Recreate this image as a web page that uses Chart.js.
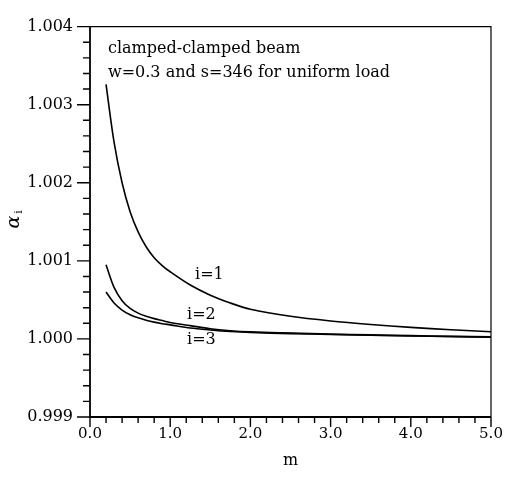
<!DOCTYPE html>
<html>
<head>
<meta charset="utf-8">
<script src="https://cdn.jsdelivr.net/npm/chart.js@4/dist/chart.umd.min.js"></script>
<style>
  html, body { margin: 0; padding: 0; background: #fff; }
  #wrap { width: 511px; height: 480px; }
</style>
</head>
<body>
<div id="wrap"><canvas id="chart"></canvas></div>
<script>
// values
const mValues = [0.2, 0.3, 0.4, 0.5, 0.6, 0.7, 0.8, 0.9, 1.0, 1.25, 1.5, 1.75, 2.0, 2.5, 3.0, 3.5, 4.0, 4.5, 5.0];
const alpha1 = [1.00326, 1.00252, 1.00200, 1.00163, 1.00137, 1.00118, 1.00104, 1.00094, 1.00086, 1.00069, 1.00056, 1.00046, 1.00038, 1.00029, 1.000230, 1.000185, 1.000148, 1.000118, 1.000092];
const alpha2 = [1.00095, 1.00066, 1.00049, 1.00039, 1.00033, 1.00029, 1.00026, 1.000235, 1.00021, 1.00017, 1.00013, 1.000105, 1.000090, 1.000075, 1.000062, 1.000052, 1.000042, 1.000034, 1.000026];
const alpha3 = [1.00060, 1.00046, 1.00037, 1.00031, 1.00027, 1.00024, 1.000215, 1.000195, 1.00018, 1.00014, 1.000115, 1.000095, 1.000082, 1.000068, 1.000057, 1.000047, 1.000038, 1.000030, 1.000022];
const curveLabels = ['i=1', 'i=2', 'i=3'];
const labelAt = [[1.31, 1.00082], [1.21, 1.00031], [1.21, 0.99999]];
const noteLines = ['clamped-clamped beam', 'w=0.3 and s=346 for uniform load'];

const xMin = 0, xMax = 5, xMajor = 1, xMinor = 0.2;
const yMin = 0.999, yMax = 1.004, yMajor = 0.001, yMinor = 0.0002;

const serif = 'DejaVu Serif';

function series(ys) {
    return mValues.map((m, k) => ({ x: m, y: ys[k] }));
}

function lineSet(ys) {
    return {
        data: series(ys),
        borderColor: '#000',
        borderWidth: 1.6,
        pointRadius: 0,
        tension: 0.3,
        fill: false
    };
}

// frame, outward ticks and the text that sits inside the plot
const framePlugin = {
    id: 'frame',
    afterDraw(chart) {
        const ctx = chart.ctx;
        const a = chart.chartArea;
        const xs = chart.scales.x;
        const ys = chart.scales.y;
        ctx.save();
        ctx.strokeStyle = '#000';

        ctx.lineWidth = 1.2;
        ctx.beginPath();
        ctx.moveTo(a.left, a.top);
        ctx.lineTo(a.right, a.top);
        ctx.lineTo(a.right, a.bottom);
        ctx.stroke();

        ctx.lineWidth = 1.8;
        ctx.beginPath();
        ctx.moveTo(a.left, a.top);
        ctx.lineTo(a.left, a.bottom);
        ctx.lineTo(a.right, a.bottom);
        ctx.stroke();

        // ticks
        ctx.lineWidth = 1.4;
        ctx.beginPath();
        const nx = Math.round((xMax - xMin) / xMinor);
        for (let k = 0; k <= nx; k++) {
            const v = xMin + k * xMinor;
            const px = xs.getPixelForValue(v);
            const major = k % Math.round(xMajor / xMinor) === 0;
            ctx.moveTo(px, a.bottom);
            ctx.lineTo(px, a.bottom + (major ? 10 : 6));
        }
        const ny = Math.round((yMax - yMin) / yMinor);
        for (let k = 0; k <= ny; k++) {
            const v = yMin + k * yMinor;
            const py = ys.getPixelForValue(v);
            const major = k % Math.round(yMajor / yMinor) === 0;
            ctx.moveTo(a.left, py);
            ctx.lineTo(a.left - (major ? 13 : 7), py);
        }
        ctx.stroke();

        // note in the top-left corner
        ctx.fillStyle = '#000';
        ctx.font = '16px "' + serif + '"';
        ctx.textAlign = 'left';
        ctx.textBaseline = 'middle';
        noteLines.forEach((t, k) => {
            ctx.fillText(t, a.left + 18, a.top + 22 + k * 24);
        });

        // curve labels
        curveLabels.forEach((t, k) => {
            const px = xs.getPixelForValue(labelAt[k][0]);
            const py = ys.getPixelForValue(labelAt[k][1]);
            ctx.fillText(t, px, py);
        });

        // y axis title: alpha with subscript i, rotated
        ctx.translate(14, 219);
        ctx.rotate(-Math.PI / 2);
        ctx.textAlign = 'center';
        ctx.font = 'italic 19px "' + serif + '"';
        ctx.fillText('α', -3, 0);
        ctx.font = '11px "' + serif + '"';
        ctx.fillText('i', 7, 5);
        ctx.restore();
    }
};

new Chart(document.getElementById('chart'), {
    type: 'line',
    data: {
        datasets: [lineSet(alpha1), lineSet(alpha2), lineSet(alpha3)]
    },
    options: {
        responsive: true,
        maintainAspectRatio: false,
        animation: false,
        layout: { padding: { top: 10, right: 20, left: 0, bottom: 0 } },
        plugins: {
            legend: { display: false },
            tooltip: { enabled: false }
        },
        scales: {
            x: {
                type: 'linear',
                min: xMin,
                max: xMax,
                grid: { display: false, drawTicks: false },
                border: { display: false },
                ticks: {
                    stepSize: xMajor,
                    padding: 8,
                    color: '#000',
                    font: { family: serif, size: 15 },
                    callback: (v) => v.toFixed(1)
                },
                title: {
                    display: true,
                    text: 'm',
                    color: '#000',
                    font: { family: serif, size: 16 },
                    padding: { top: 0, bottom: 10 }
                },
                afterFit: (scale) => { scale.height = 63; }
            },
            y: {
                type: 'linear',
                min: yMin,
                max: yMax,
                grid: { display: false, drawTicks: false },
                border: { display: false },
                ticks: {
                    stepSize: yMajor,
                    padding: 17,
                    color: '#000',
                    font: { family: serif, size: 16 },
                    callback: (v) => v.toFixed(3)
                },
                afterFit: (scale) => { scale.width = 90; }
            }
        }
    },
    plugins: [framePlugin]
});
</script>
</body>
</html>
